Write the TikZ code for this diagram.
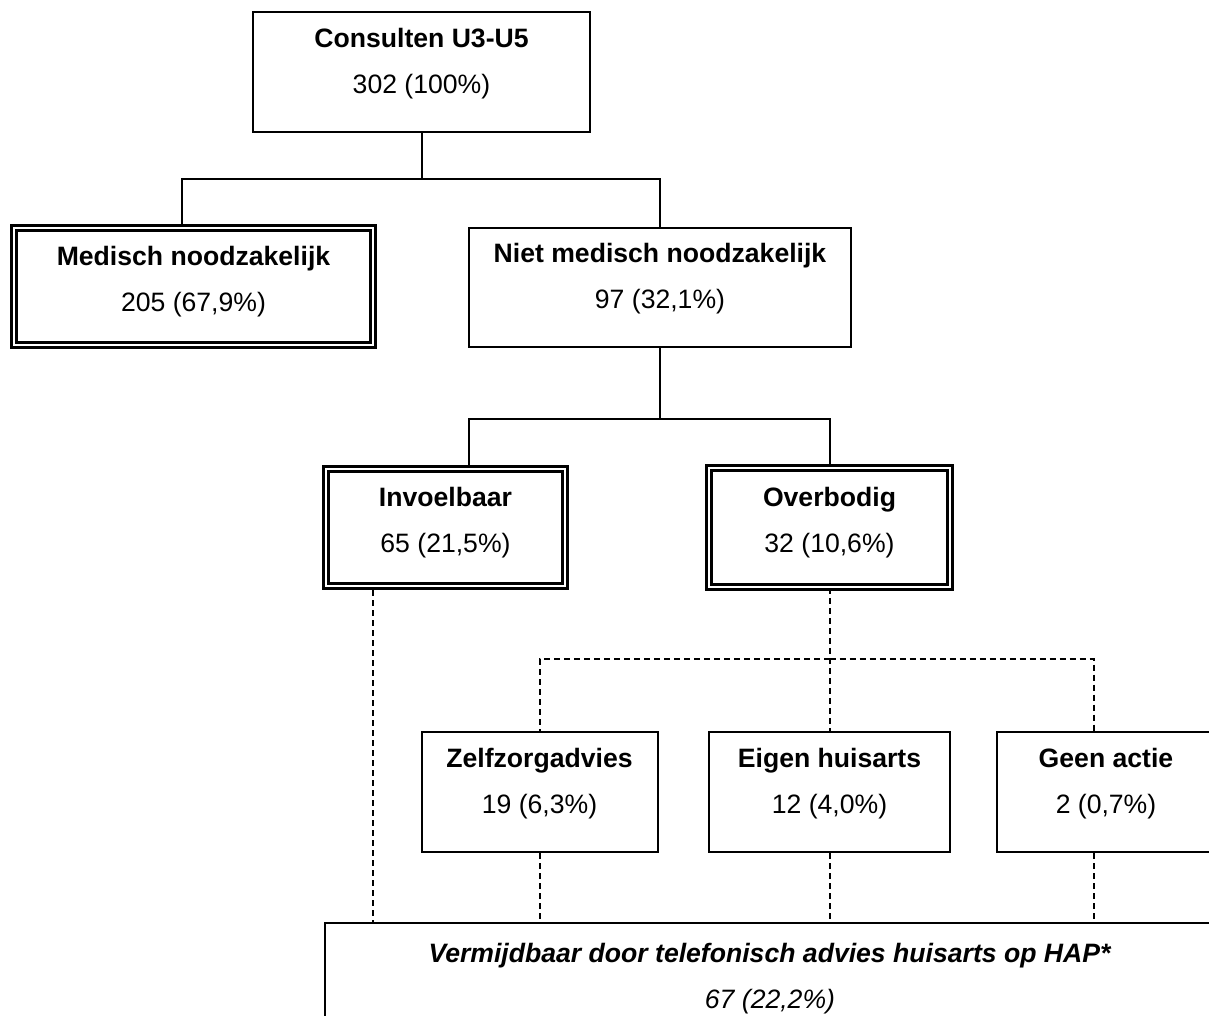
\documentclass[tikz,border=0pt]{standalone}
\usepackage{fontspec}
\setmainfont{Liberation Sans}
\usetikzlibrary{positioning, calc}
\newcommand{\boxfont}{\fontsize{13.3}{23}\selectfont}
\newcommand{\lowstrut}[1][11.5pt]{\rule[-#1]{0pt}{#1}}

\begin{document}
\begin{tikzpicture}[
  x=0.5pt, y=-0.5pt,
  ubox/.style={draw, line width=1pt, fill=white, align=center, inner sep=0pt, font=\boxfont},
  dbox/.style={ubox, double, line width=1.35pt, double distance=1.15pt},
  tieline/.style={line width=1pt},
  dashline/.style={line width=1pt, dash pattern=on 3pt off 2pt}
]
  \useasboundingbox (0,0) rectangle (1209,1016);
  \clip (0,0) rectangle (1209,1016);

  % level 1
  \node[ubox, minimum width=168.5pt, minimum height=60pt] (cons) at (421.5,72) {
    \textbf{Consulten U3-U5}\\
    302 (100\%)\lowstrut
  };
  % level 2
  \node[dbox, minimum width=179.5pt, minimum height=58.5pt] (med) at (193.5,286.5) {
    \textbf{Medisch noodzakelijk}\\
    205 (67,9\%)\lowstrut[7.5pt]
  };
  \node[ubox, minimum width=191pt, minimum height=59.5pt] (niet) at (660,287.5) {
    \textbf{Niet medisch noodzakelijk}\\
    97 (32,1\%)\lowstrut
  };
  % level 3
  \node[dbox, minimum width=119.5pt, minimum height=58.5pt] (invo) at (445.5,527.5) {
    \textbf{Invoelbaar}\\
    65 (21,5\%)\lowstrut[7.5pt]
  };
  \node[dbox, minimum width=120.5pt, minimum height=59.5pt] (over) at (829.5,527.5) {
    \textbf{Overbodig}\\
    32 (10,6\%)\lowstrut[7.5pt]
  };
  % level 4
  \node[ubox, minimum width=118pt, minimum height=60pt] (zelf) at (539.5,792) {
    \textbf{Zelfzorgadvies}\\
    19 (6,3\%)\lowstrut
  };
  \node[ubox, minimum width=120.5pt, minimum height=60pt] (eigen) at (829.5,792) {
    \textbf{Eigen huisarts}\\
    12 (4,0\%)\lowstrut
  };
  \node[ubox, minimum width=109pt, minimum height=60pt] (geen) at (1106,792) {
    \textbf{Geen actie}\\
    2 (0,7\%)\lowstrut
  };
  % level 5
  \node[ubox, minimum width=445pt, minimum height=60pt] (hap) at (770,983) {
    \textbf{\textit{Vermijdbaar door telefonisch advies huisarts op HAP*}}\\
    \textit{67 (22,2\%)}\lowstrut[7.5pt]
  };

  % solid ties
  \coordinate (split1) at (421.5,179);
  \coordinate (medin) at (182,224);
  \coordinate (split2) at (660,419);
  \coordinate (invoin) at (469,465);
  \draw[tieline] (cons.south) -- (split1);
  \draw[tieline] (split1) -| (medin);
  \draw[tieline] (split1) -| (niet.north);
  \draw[tieline] (niet.south) -- (split2);
  \draw[tieline] (split2) -| (invoin);
  \draw[tieline] (split2) -| (over.north);

  % dashed ties
  \coordinate (split3) at (829.5,659);
  \coordinate (invoout) at (373,590);
  \coordinate (geenin) at (1094,732);
  \draw[dashline] (over.south) -- (eigen.north);
  \draw[dashline] (split3) -| (zelf.north);
  \draw[dashline] (split3) -| (geenin);
  \draw[dashline] (invoout) -- (invoout |- hap.north);
  \draw[dashline] (zelf.south) -- (zelf.south |- hap.north);
  \draw[dashline] (eigen.south) -- (hap.north -| eigen.south);
  \draw[dashline] ([xshift=-6pt]geen.south) -- (hap.north -| geenin);
\end{tikzpicture}
\end{document}
